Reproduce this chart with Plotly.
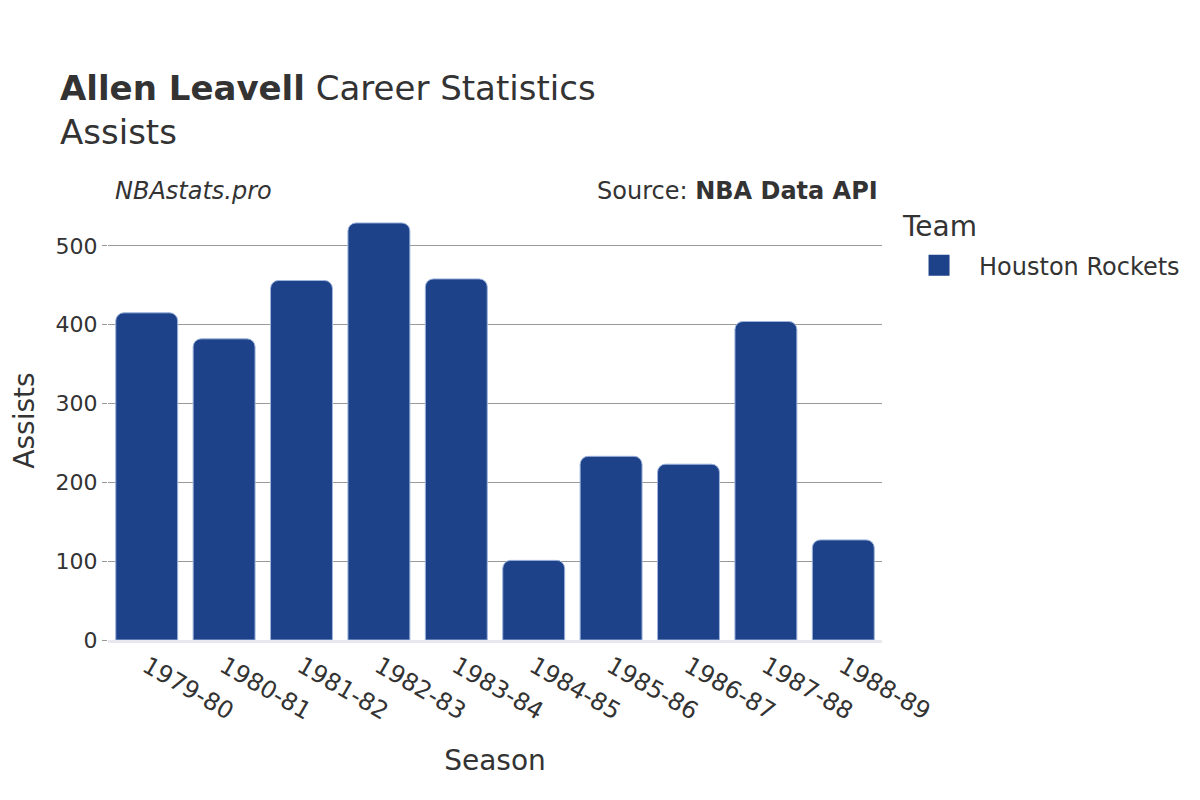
import plotly.graph_objects as go

seasons = ["1979-80", "1980-81", "1981-82", "1982-83", "1983-84",
           "1984-85", "1985-86", "1986-87", "1987-88", "1988-89"]
assists = [415, 382, 456, 529, 458, 101, 233, 223, 404, 127]
team = "Houston Rockets"

FONT = "DejaVu Sans"
TEXT = "#333333"
BAR = "#1D428A"

fig = go.Figure()
fig.add_trace(
    go.Bar(
        x=seasons,
        y=assists,
        name=team,
        showlegend=False,
        marker={"color": BAR, "line": {"color": "#9db4dc", "width": 1}},
        hovertemplate="%{x}: %{y}<extra></extra>",
    )
)
# legend-only entry so the swatch can be drawn larger than the bar default
fig.add_trace(
    go.Scatter(
        x=[None],
        y=[None],
        mode="markers",
        name=team,
        marker={"symbol": "square", "size": 16, "color": BAR,
                "line": {"color": BAR, "width": 5}},
        hoverinfo="skip",
    )
)

fig.update_layout(
    width=1200,
    height=800,
    font={"family": FONT, "color": TEXT, "size": 20},
    plot_bgcolor="white",
    paper_bgcolor="white",
    margin={"l": 100, "r": 326, "t": 193, "b": 168},
    bargap=0.2,
    barcornerradius=8,
    title={
        "text": "<b>Allen Leavell</b> Career Statistics<br>Assists",
        "x": 52 / 1200,
        "xanchor": "left",
        "y": 0.885,
        "yanchor": "top",
        "font": {"size": 34, "family": FONT, "color": TEXT},
    },
    legend={
        "x": 1.022,
        "xanchor": "left",
        "y": 0.904,
        "yanchor": "top",
        "font": {"size": 24},
        "itemsizing": "trace",
        "itemwidth": 70,
    },
    showlegend=True,
    xaxis={
        "title": {"text": "Season", "font": {"size": 28}, "standoff": 26},
        "tickangle": 30,
        "tickfont": {"size": 24},
        "showgrid": False,
        "showline": True,
        "linecolor": "#e8e8ee",
        "linewidth": 3,
    },
    yaxis={
        "title": {"text": "Assists", "font": {"size": 28}, "standoff": 48},
        "automargin": False,
        "tickfont": {"size": 22},
        "showgrid": True,
        "gridcolor": "#999999",
        "gridwidth": 1,
        "zeroline": False,
        "dtick": 100,
        "ticks": "outside",
        "ticklen": 5,
        "tickcolor": "#999999",
    },
    annotations=[
        {
            "text": "<i>NBAstats.pro</i>",
            "xref": "paper", "yref": "paper",
            "x": 0.0, "y": 1.0,
            "xanchor": "left", "yanchor": "bottom",
            "xshift": 5, "yshift": -6,
            "showarrow": False,
            "font": {"size": 24, "color": TEXT},
        },
        {
            "text": "Source: <b>NBA Data API</b>",
            "xref": "paper", "yref": "paper",
            "x": 1.0, "y": 1.0,
            "xanchor": "right", "yanchor": "bottom",
            "xshift": -2, "yshift": -6,
            "showarrow": False,
            "font": {"size": 24, "color": TEXT},
        },
        {
            "text": "Team",
            "xref": "paper", "yref": "paper",
            "x": 1.022, "y": 1.005,
            "xanchor": "left", "yanchor": "top",
            "xshift": 1, "yshift": -9,
            "showarrow": False,
            "font": {"size": 28, "color": TEXT},
        },
    ],
)

fig.write_html("out.html")
